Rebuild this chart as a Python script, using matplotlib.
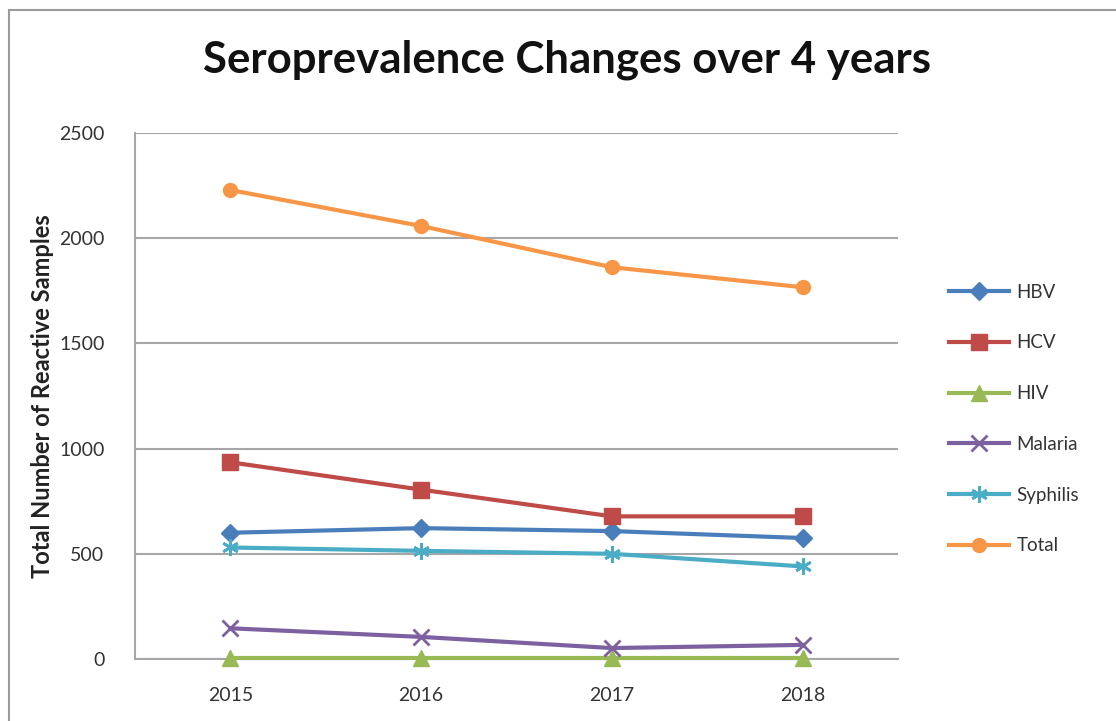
import matplotlib
matplotlib.use("Agg")
import matplotlib.pyplot as plt
from matplotlib.patches import Rectangle

years = ["2015", "2016", "2017", "2018"]
hbv = [600, 622, 608, 575]
hcv = [935, 805, 678, 678]
hiv = [5, 5, 5, 5]
malaria = [146, 105, 52, 67]
syphilis = [530, 514, 500, 440]
total = [2229, 2058, 1862, 1767]

series = [
    ("HBV", hbv, "#4a7ebb", "D", 9),
    ("HCV", hcv, "#be4b48", "s", 11),
    ("HIV", hiv, "#98b954", "^", 11),
    ("Malaria", malaria, "#7d60a0", "x", 11),
    ("Syphilis", syphilis, "#4bacc6", (6, 2, 0), 12),
    ("Total", total, "#f79646", "o", 10),
]

plt.rcParams['font.family'] = ['Lato', 'DejaVu Sans']

fig = plt.figure(figsize=(11.16, 7.21), dpi=100)
fig.patch.set_facecolor("white")
# outer chart frame
fig.patches.append(Rectangle((9 / 1116, -0.05), 1.2, 1 - 10 / 721 + 0.05,
                             transform=fig.transFigure, fill=False,
                             edgecolor="#9a9a9a", linewidth=1.5))

ax = fig.add_axes([135 / 1116, 1 - 659 / 721, (898 - 135) / 1116, (659 - 133) / 721])
x = list(range(len(years)))
for name, vals, color, marker, ms in series:
    mew = 2.0 if marker in ("x", (6, 2, 0)) else 1.0
    ax.plot(x, vals, color=color, linewidth=3.0, marker=marker, markersize=ms,
            markeredgewidth=mew, markeredgecolor=color, label=name, zorder=3,
            clip_on=False)

ax.set_xlim(-0.5, 3.5)
ax.set_ylim(0, 2500)
ax.set_yticks([0, 500, 1000, 1500, 2000, 2500])
ax.set_xticks(x)
ax.set_xticklabels(years)
ax.yaxis.grid(True, color="#a6a6a6", linewidth=1.5)
ax.set_axisbelow(True)
for s in ["top", "right"]:
    ax.spines[s].set_visible(False)
for s in ["left", "bottom"]:
    ax.spines[s].set_color("#a6a6a6")
    ax.spines[s].set_linewidth(1.5)
ax.tick_params(axis="both", length=0, labelsize=14, colors="#333333")
ax.tick_params(axis="y", pad=22)
ax.tick_params(axis="x", pad=20)

ax.set_ylabel("Total Number of Reactive Samples", fontsize=17, fontweight="bold",
              color="#222222", labelpad=4)

fig.text(567 / 1116, 1 - 60 / 721, "Seroprevalence Changes over 4 years",
         ha="center", va="center", fontsize=31.5, fontweight="bold", color="#111111")

leg = fig.legend(loc="center left", bbox_to_anchor=(932 / 1116, 1 - 419 / 721),
                 frameon=False, fontsize=13.5, handlelength=3.2, labelspacing=1.8,
                 handletextpad=0.4)
for t in leg.get_texts():
    t.set_color("#333333")

fig.savefig("out.png", dpi=100, facecolor="white")
